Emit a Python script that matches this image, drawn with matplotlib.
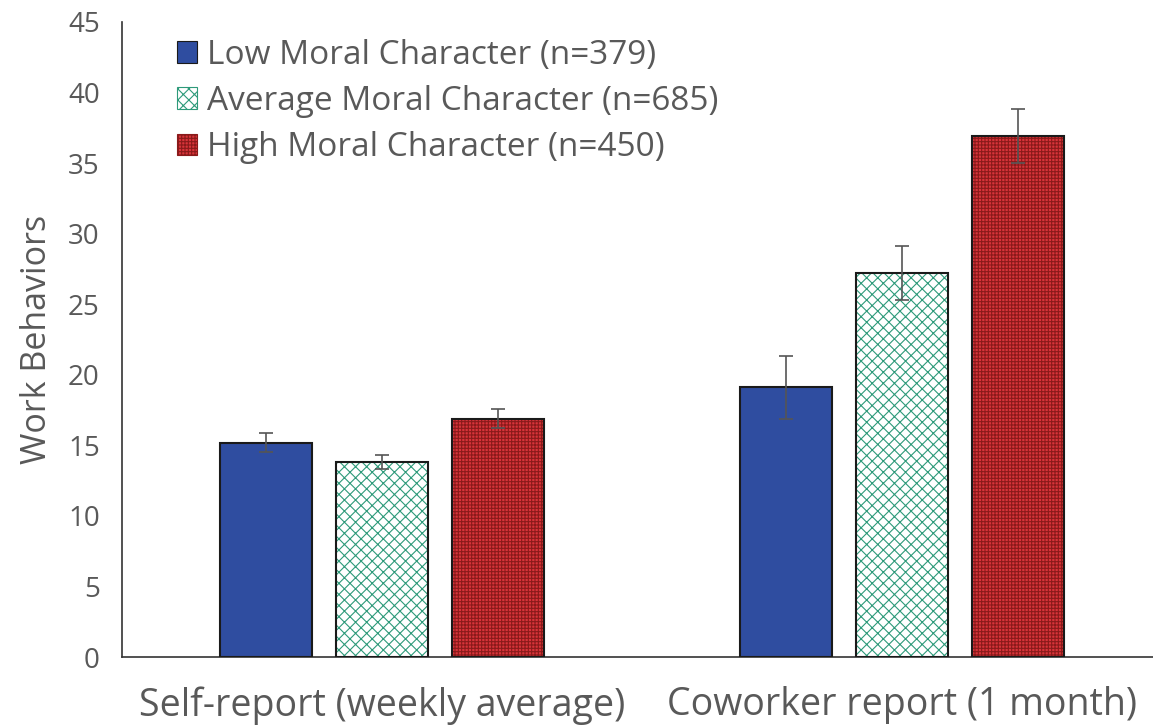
import numpy as np
import matplotlib.pyplot as plt
from matplotlib.patches import Patch

plt.rcParams['font.family'] = ['Open Sans', 'DejaVu Sans']

# data
groups = ["Self-report (weekly average)", "Coworker report (1 month)"]
labels = ["Low Moral Character (n=379)",
          "Average Moral Character (n=685)",
          "High Moral Character (n=450)"]
low_vals = [15.2, 19.1]
avg_vals = [13.8, 27.2]
high_vals = [16.9, 36.9]
low_err = [0.65, 2.2]
avg_err = [0.5, 1.9]
high_err = [0.7, 1.9]

TXT = '#595959'

fig = plt.figure(figsize=(11.53, 7.26), dpi=100)
ax = fig.add_axes([122/1153, 69/726, 1 - 122/1153, (657-22)/726])

x = np.arange(len(groups))
w = 0.177
step = 0.223

styles = [
    dict(face='#2f4da0', hatch=None, hcol=None),
    dict(face='white', hatch='xxx', hcol='#2e9a7a'),
    dict(face='#d8343a', hatch='+++++', hcol='#8a1a1a'),
]
series = [(low_vals, low_err), (avg_vals, avg_err), (high_vals, high_err)]

plt.rcParams['hatch.linewidth'] = 0.8
handles = []
for i, ((vals, errs), st) in enumerate(zip(series, styles)):
    pos = x + (i - 1) * step
    if st['hatch']:
        ax.bar(pos, vals, w, color=st['face'], hatch=st['hatch'],
               edgecolor=st['hcol'], linewidth=0, zorder=2)
    else:
        ax.bar(pos, vals, w, color=st['face'], linewidth=0, zorder=2)
    ax.bar(pos, vals, w, fill=False, edgecolor='#1a1a1a', linewidth=1.5, zorder=3)
    ax.errorbar(pos, vals, yerr=errs, fmt='none', ecolor='#555555',
                elinewidth=1.2, capsize=5, capthick=1.2, zorder=4)
    handles.append(Patch(facecolor=st['face'], hatch=st['hatch'],
                         edgecolor=st['hcol'] if st['hatch'] else '#1a1a1a',
                         linewidth=0.8))

ax.set_ylim(0, 45)
ax.set_xlim(-0.5, 1.483)
ax.set_yticks(np.arange(0, 46, 5))
ax.set_xticks(x)
ax.set_xticklabels(groups, fontsize=27, color=TXT)
ax.tick_params(axis='y', length=0, labelsize=20, labelcolor=TXT, pad=16)
ax.tick_params(axis='x', length=0, pad=21)
for s in ['top', 'right']:
    ax.spines[s].set_visible(False)
for s in ['left', 'bottom']:
    ax.spines[s].set_color('#333333')
    ax.spines[s].set_linewidth(1.2)
ax.set_ylabel("Work Behaviors", fontsize=24.5, color=TXT, labelpad=10)

leg = ax.legend(handles, labels, loc='upper left', bbox_to_anchor=(0.04, 0.995),
                frameon=False, fontsize=24, labelcolor=TXT,
                handlelength=0.62, handleheight=0.62, handletextpad=0.3,
                labelspacing=0.4, borderaxespad=0)

fig.savefig('out.png', dpi=100)
